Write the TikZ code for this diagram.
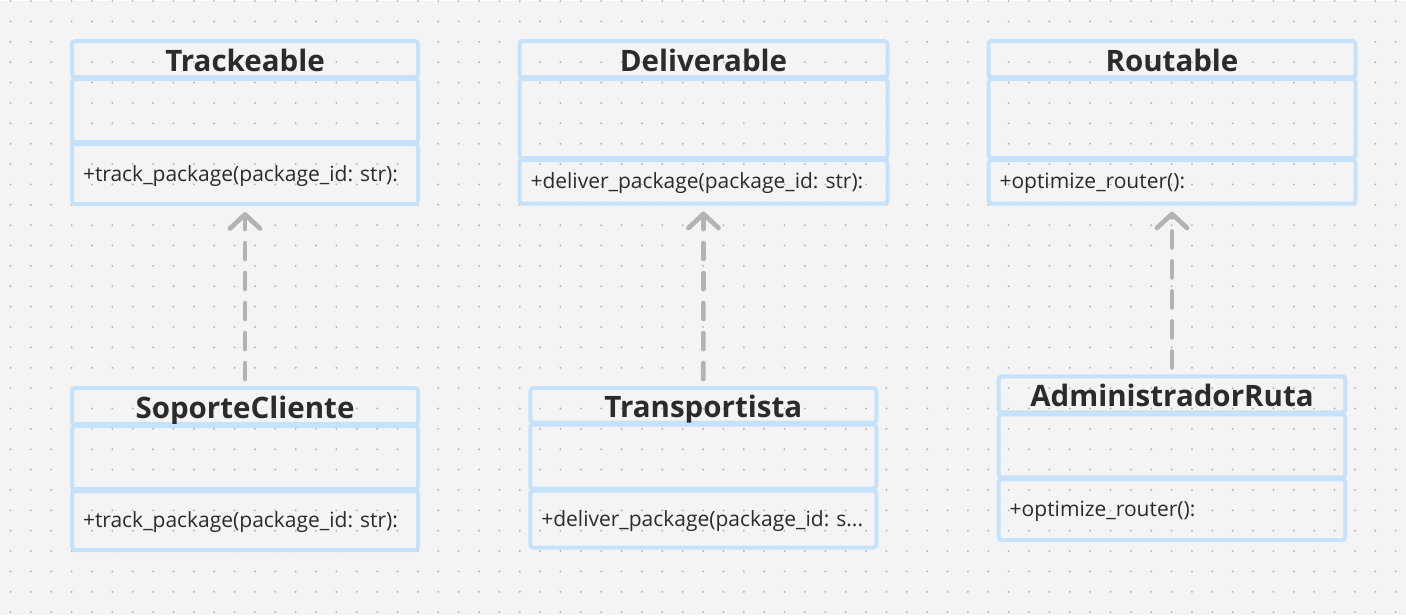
\documentclass[tikz,border=0pt]{standalone}
\usepackage{fontspec}
\setmainfont{Open Sans}
\usetikzlibrary{arrows.meta,positioning}
\definecolor{canvasgray}{HTML}{F4F4F4}
\definecolor{dotgray}{HTML}{B8B8B8}
\definecolor{umlblue}{HTML}{C6E2FB}
\definecolor{inkdark}{HTML}{2B2B2B}
\definecolor{realgray}{HTML}{B3B3B3}
\tikzset{
  umlpart/.style={rectangle,rounded corners=3pt,draw=umlblue,line width=4pt,inner sep=0pt,outer sep=0pt,text=inkdark},
  headpart/.style={umlpart,minimum height=36pt,text height=25pt,text depth=0pt,font=\fontsize{29.5}{34}\selectfont\bfseries},
  bodypart/.style={umlpart,minimum height=63pt},
  opspart/.style={umlpart,text height=16pt,text depth=2pt,font=\fontsize{21}{25}\selectfont\frenchspacing,align=left,inner xsep=11pt},
  realizes/.style={-{Straight Barb[length=14pt,width=30pt,round]},line width=4.7pt,color=realgray,
    dash pattern=on 16pt off 14pt,line cap=round,shorten <=9pt,shorten >=8pt}
}

\begin{document}
\begin{tikzpicture}[x=1pt,y=-1pt,node distance=2pt]
  \fill[canvasgray] (0,0) rectangle (1406,614);
  \foreach \i in {0,...,68}
    \foreach \j in {0,...,30}
      \fill[dotgray] ({10.5+20.37*\i},{20.37*\j}) circle (1.1pt);

  \node[headpart,minimum width=346pt,anchor=north west] (trackhead) at (72,40) {Trackeable};
  \node[bodypart,minimum width=346pt,below=of trackhead] (trackbody) {};
  \node[opspart,text width=324pt,minimum height=60pt,below=of trackbody] (trackops) {+track\_package(package\_id: str):};

  \node[headpart,minimum width=368pt,anchor=north west] (delivhead) at (519.5,40) {Deliverable};
  \node[bodypart,minimum width=368pt,minimum height=79pt,below=of delivhead] (delivbody) {};
  \node[opspart,text width=346pt,minimum height=43.5pt,below=of delivbody] (delivops) {+deliver\_package(package\_id: str):};

  \node[headpart,minimum width=367pt,anchor=north west] (routehead) at (988.5,40) {Routable};
  \node[bodypart,minimum width=367pt,minimum height=79pt,below=of routehead] (routebody) {};
  \node[opspart,text width=345pt,minimum height=43.5pt,below=of routebody] (routeops) {+optimize\_router():};

  \node[headpart,minimum width=346pt,anchor=north west] (soportehead) at (72,387) {SoporteCliente};
  \node[bodypart,minimum width=346pt,below=of soportehead] (soportebody) {};
  \node[opspart,text width=324pt,minimum height=59pt,below=of soportebody] (soporteops) {+track\_package(package\_id: str):};

  \node[headpart,minimum width=346pt,minimum height=34.5pt,anchor=north west] (transphead) at (530.3,387) {Transportista};
  \node[bodypart,minimum width=346pt,minimum height=64pt,below=of transphead] (transpbody) {};
  \node[opspart,text width=324pt,minimum height=57pt,below=of transpbody] (transpops) {+deliver\_package(package\_id: s...};

  \node[headpart,minimum width=346.6pt,anchor=north west] (adminhead) at (998.7,375.3) {AdministradorRuta};
  \node[bodypart,minimum width=346.6pt,below=of adminhead] (adminbody) {};
  \node[opspart,text width=324.6pt,minimum height=60.7pt,below=of adminbody] (adminops) {+optimize\_router():};

  \draw[realizes] (soportehead.north) -- (trackops.south);
  \draw[realizes] (transphead.north) -- (delivops.south);
  \draw[realizes] (adminhead.north) -- (routeops.south);
\end{tikzpicture}
\end{document}
